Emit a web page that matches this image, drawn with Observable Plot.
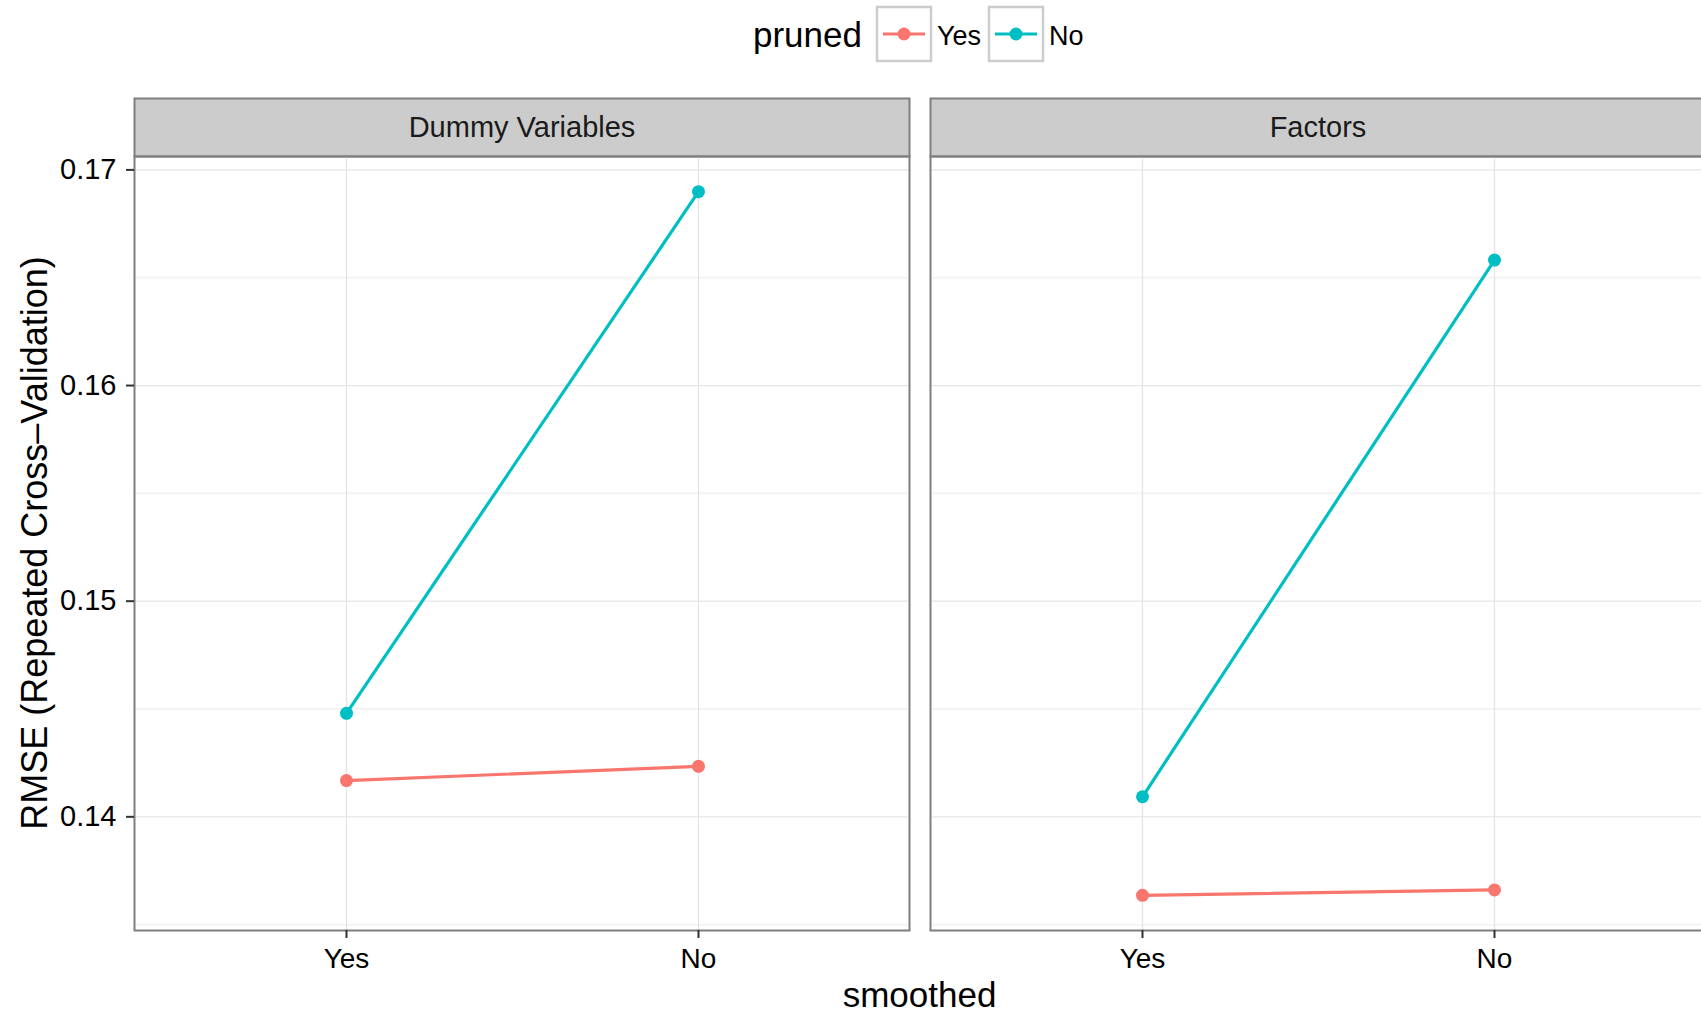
<!DOCTYPE html>
<html><head><meta charset="utf-8">
<script src="https://cdn.jsdelivr.net/npm/d3@7"></script>
<script src="https://cdn.jsdelivr.net/npm/@observablehq/plot@0.6"></script>
<style>
html,body{margin:0;padding:0;background:#fff;overflow:hidden;}
#wrap{width:1701px;height:1014px;overflow:hidden;position:relative;background:#fff;}
</style></head><body><div id="wrap"></div>
<script>
// ---- data ----
const panels = ["Dummy Variables", "Factors"];
const smoothedLevels = ["Yes", "No"];
const prunedLevels = ["Yes", "No"];
const prunedColors = ["#F8766D", "#00BFC4"];
const rmseDummyPrunedYes = [0.14168, 0.14234];
const rmseDummyPrunedNo = [0.14480, 0.16899];
const rmseFactorsPrunedYes = [0.13636, 0.13661];
const rmseFactorsPrunedNo = [0.14093, 0.16582];
const majorTicks = [0.14, 0.15, 0.16, 0.17];
const majorTickLabels = ["0.14", "0.15", "0.16", "0.17"];
const minorTicks = [0.135, 0.145, 0.155, 0.165];

const series = [
  ["Dummy Variables", "Yes", rmseDummyPrunedYes],
  ["Dummy Variables", "No", rmseDummyPrunedNo],
  ["Factors", "Yes", rmseFactorsPrunedYes],
  ["Factors", "No", rmseFactorsPrunedNo]
];
const rows = [];
for (const [panel, pruned, vals] of series) {
  vals.forEach((v, i) => rows.push({panel, pruned, smoothed: smoothedLevels[i], rmse: v}));
}
const allVals = rows.map(d => d.rmse);
const lo = d3.min(allVals), hi = d3.max(allVals), pad = (hi - lo) * 0.05;

const font = '"Liberation Sans", Arial, Helvetica, sans-serif';
const W = 1706, H = 1014, mL = 133, mR = 0, mT = 156, mB = 84;
const stripH = 58;

const plot = Plot.plot({
  width: W, height: H,
  marginLeft: mL, marginRight: mR, marginTop: mT, marginBottom: mB,
  style: {fontFamily: font, fontSize: "28px", color: "black", background: "white", maxWidth: "none"},
  fx: {domain: panels, paddingInner: 0.0263, paddingOuter: 0, label: null, axis: null},
  x: {type: "point", domain: smoothedLevels, padding: 0.6, label: null},
  y: {domain: [lo - pad, hi + pad], label: null},
  color: {domain: prunedLevels, range: prunedColors},
  marks: [
    Plot.frame({fill: "#cccccc", stroke: "#7f7f7f", strokeWidth: 2, insetTop: -stripH, insetBottom: H - mT - mB}),
    Plot.gridY(minorTicks, {stroke: "#f4f4f4", strokeOpacity: 1, strokeWidth: 2}),
    Plot.gridY(majorTicks, {stroke: "#e5e5e5", strokeOpacity: 1, strokeWidth: 1.3}),
    Plot.gridX({stroke: "#e5e5e5", strokeOpacity: 1, strokeWidth: 1.3}),
    Plot.frame({stroke: "#7f7f7f", strokeWidth: 2}),
    Plot.axisY(majorTicks, {tickSize: 8, tickPadding: 10, fontSize: 29, stroke: "#333", strokeWidth: 2, fill: "black", label: null,
      tickFormat: v => majorTickLabels[majorTicks.indexOf(v)]}),
    Plot.axisX({tickSize: 8, tickPadding: 10, fontSize: 28, stroke: "#333", strokeWidth: 2, fill: "black", label: null}),
    Plot.line(rows, {fx: "panel", x: "smoothed", y: "rmse", stroke: "pruned", z: "pruned", strokeWidth: 3.2}),
    Plot.dot(rows, {fx: "panel", x: "smoothed", y: "rmse", fill: "pruned", r: 6.5}),
    Plot.text(panels, {fx: d => d, text: d => d, frameAnchor: "top", dy: -40, fontSize: 29, fill: "#1a1a1a"})
  ]
});
document.getElementById("wrap").appendChild(plot);

// ---- titles and legend ----
const svg = d3.select(plot);
const color = plot.scale("color");
const colorOf = v => color.apply ? color.apply(v) : prunedColors[prunedLevels.indexOf(v)];
const g = svg.append("g").attr("font-family", font).attr("fill", "black");

const fxs = plot.scale("fx");
const xMid = (fxs.range[0] + fxs.range[1]) / 2;
g.append("text").attr("x", xMid).attr("y", 1007).attr("font-size", 35)
  .attr("text-anchor", "middle").text("smoothed");
g.append("text").attr("transform", `translate(47,${(mT + H - mB) / 2}) rotate(-90)`)
  .attr("font-size", 36).attr("text-anchor", "middle").text("RMSE (Repeated Cross\u2013Validation)");

g.append("text").attr("x", 753).attr("y", 47).attr("font-size", 35).attr("text-anchor", "start").text("pruned");
const keyX = [877, 989];
prunedLevels.forEach((lvl, i) => {
  const x0 = keyX[i];
  g.append("rect").attr("x", x0).attr("y", 7).attr("width", 54).attr("height", 54)
    .attr("fill", "white").attr("stroke", "#cccccc").attr("stroke-width", 2.5);
  g.append("line").attr("x1", x0 + 6).attr("x2", x0 + 48).attr("y1", 34).attr("y2", 34)
    .attr("stroke", colorOf(lvl)).attr("stroke-width", 3);
  g.append("circle").attr("cx", x0 + 27).attr("cy", 34).attr("r", 6.5).attr("fill", colorOf(lvl));
  g.append("text").attr("x", x0 + 60).attr("y", 45).attr("font-size", 27).attr("text-anchor", "start").text(lvl);
});
</script></body></html>
